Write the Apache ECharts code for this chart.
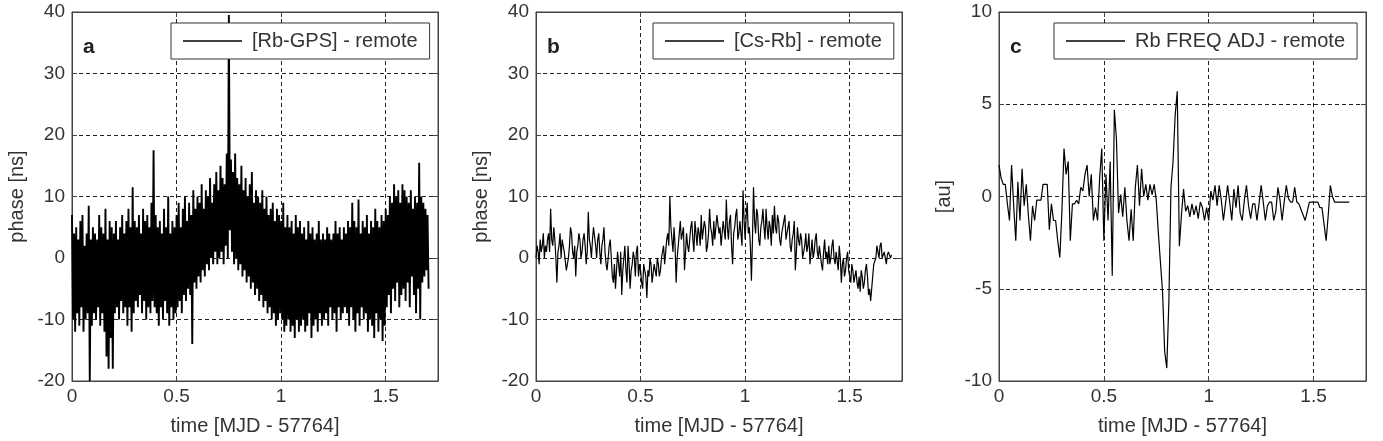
<!DOCTYPE html>
<html>
<head>
<meta charset="utf-8">
<script src="https://cdn.jsdelivr.net/npm/echarts@6/dist/echarts.min.js"></script>
<style>html,body{margin:0;padding:0;background:#fff;}#c{width:1383px;height:441px;}</style>
</head>
<body>
<div id="c"></div>
<script>
// Panel a: upper / lower excursions of the dense [Rb-GPS] phase trace, sampled every 0.01 day from 0 to 1.70
const stepA = 0.01;
const aHigh = [
 7, 4, 5, 3, 6, 7, 2, 4, 8.5, 3,
 5, 4, 3, 7, 5, 4, 8, 3, 6, 5,
 4, 6, 3, 5, 7, 4, 6, 8, 5, 11.5,
 6, 5, 7, 4, 8, 6, 7, 5, 9, 17.5,
 7, 5, 6, 4, 8, 5, 10, 4, 6, 5,
 7, 9, 5, 8, 10, 6, 9, 7, 11, 8,
 10, 9, 12, 8, 11, 10, 13, 9, 12, 14,
 11, 15, 13, 12, 17, 39.5, 16, 14, 17, 13,
 12, 15, 11, 13, 10, 12, 14, 9, 11, 10,
 9, 11, 8, 10, 7, 8, 9, 6, 8, 7,
 6, 9, 5, 7, 5, 6, 4, 7, 5, 6,
 4, 5, 3, 6, 4, 5, 3, 4, 6, 3,
 4, 3, 5, 4, 3, 4, 6, 4, 5, 3,
 5, 4, 6, 5, 9, 6, 5, 9.5, 4, 6,
 5, 7, 4, 6, 5, 8, 6, 5, 7, 6,
 8, 7, 10, 9, 12, 10, 11, 9, 12, 11,
 10, 9, 11, 8, 10, 9, 15.5, 10, 9, 8,
 7
];
const aLow = [
 -10, -12, -9, -11, -8, -12, -10, -9, -20, -11,
 -9, -10, -8, -11, -9, -12, -16, -18, -13, -18,
 -9, -8, -10, -7, -9, -8, -11, -8, -12, -9,
 -7, -8, -6, -9, -7, -10, -8, -9, -7, -8,
 -9, -11, -8, -10, -7, -9, -11, -8, -10, -9,
 -8, -7, -9, -6, -7, -5, -6, -14, -4, -5,
 -3, -4, -2, -3, -1, -2, 0, -1, 1, -1,
 0, 1, -1, 2, 0, 4.5, 1, -1, 0, -2,
 -1, -3, -2, -4, -3, -5, -4, -6, -5, -7,
 -6, -8, -7, -9, -8, -10, -9, -11, -10, -9,
 -10, -12, -11, -10, -12, -11, -13, -10, -12, -11,
 -10, -12, -11, -9, -13, -11, -10, -12, -9, -11,
 -10, -9, -11, -8, -10, -9, -12, -8, -10, -9,
 -8, -9, -11, -8, -10, -12, -9, -11, -8, -10,
 -9, -12, -10, -11, -13, -9, -12, -10, -13.5, -11,
 -8, -6, -9, -5, -7, -4, -8, -6, -5, -7,
 -4, -8, -3, -6, -9, -5, -10, -4, -3, -2,
 -5
];
// Panel b: [Cs-Rb] phase, every 0.005 day
const stepB = 0.005;
const bVals = [
 0, 2, 1, -1, 3, 1, 2, 4, 0, 2, 1, 3, 4, 1, 8, 3, 2, 5, 3, 0,
 -4, 1, 2, 4, 0, 3, 3, 1, 1, -2, -2, 0, 2, 5, 4, 1, 0, 2, -3, 1,
 2, 4, 3, 0, 1, 3, 4, 2, -1, 1, 7.5, 3, 2, 0, 3, 5, 5, 2, 0, 3,
 4, 1, -1, 2, 3, 5, 1, -1, -2, 0, 2, 3, 0, -3, -4, -1, -5, -2, 1, -1,
 -3, 1, -6, -2, 0, 2, -2, -4, 2, -1, -5, -2, -1, 1, 0, -3, 1, 2, -3, -1,
 -2, -4, -5, -1, -1, -3, -6.5, -2, -3, 0, -1, -4, -4, -1, -2, -3, 0, -1, -3, -2,
 0, 1, 2, -1, 1, 3, 4, 2, 10, 5, 3, 1, 5, 2, -4, 0, 2, 4, 6, 3,
 3, 5, -2, 1, 4, 2, 1, 3, 5, 6, 3, 1, 6, 4, 2, 5, 4, 2, 7, 3,
 3, 6, 5, 1, 2, 4, 8, 5, 4, 2, 6, 3, 3, 7, 7, 4, 5, 2, 4, 6,
 6, 3, 9.5, 5, 3, 6, 7, 2, -1, 4, 5, 7, 8, 3, 4, 6, 6, 2, 11, 6,
 3, 7, 9, 4, 5, 2, -3.7, 3, 11.5, 6, 4, 8, 7, 3, 2, 5, 6, 8, 5, 3,
 8, 5, 3, 6, 5, 2, 7, 4, 8.5, 5, 4, 7, 6, 3, 2, 4, 5, 6, 7, 3,
 3, 5, 6, 2, 1, 3, 4, 6, -2, 1, 5, 3, 2, 4, 3, 0, 0, 2, 4, 1,
 2, 4, -1, 1, 3, 0, 1, 3, 4, 1, 0, 2, 2, -1, -2, 1, 3, 0, 1, -1,
 2, -1, 0, 2, 3, 0, -1, 1, 1, -2, 2, 0, -4, -1, 0, -3, -2, 0, 1, -2,
 -3, -4, -1, -2, -4, -3, -2, -4, -5, -3, -5.5, -2, -3, -5, -4, -2, -1, -3, -6, -5,
 -7, -5, -3, -1, -1, 0, 2, 1, 0, 2, 2.5, 0, 0, 1, 1, -1, 0.5, 1, 1, 0,
 0.5
];
// Panel c: Rb FREQ ADJ, every 0.01 day
const stepC = 0.01;
const cVals = [
 1.7, 1.0, 0.66, 0.66, -0.4, -1.3, 1.7, -0.5, -2.4, 0.8,
 -1.3, 1.5, -0.5, 0.66, -1.0, -2.4, -0.5, -1.3, -0.2, -0.2,
 -0.2, 0.66, 0.66, 0.66, -1.8, -0.4, -1.3, -1.3, -2.4, -3.3,
 -0.8, 2.6, 1.2, 1.9, -2.4, -0.4, -0.4, -0.2, -0.4, 0.5,
 0.3, 1.2, 1.7, 0, 1.2, -1.3, -0.6, -1.3, 1.0, 2.6,
 -2.4, 1.2, -1.3, 1.9, -4.3, 4.7, 3.1, -0.9, 0.1, -1.1,
 0.5, -1.3, -2.4, -0.7, -2.4, 0.5, 1.7, -0.5, 1.5, 0,
 0.66, -0.2, 0.66, 0.1, 0.66, -0.2, -2.0, -3.6, -5.2, -8.4,
 -9.3, -5.7, 0.5, 1.9, 4.4, 5.7, -2.7, -1.0, 0.4, -0.8,
 -0.5, -1.1, -0.4, -1.0, -0.5, -1.2, -0.3, -0.6, -1.3, -0.6,
 -1.3, 0.3, -0.2, 0.6, -0.5, 0.6, -0.2, -1.3, -0.4, 0.6,
 -0.3, -1.3, 0.4, -0.6, 0.6, -0.9, -1.3, -0.2, 0.6, -0.5,
 -1.2, -0.4, -0.4, -1.3, -0.4, 0.6, -0.3, -1.3, -0.5, -0.3,
 -0.3, -1.3, -0.8, 0.5, -0.2, -1.3, -0.3, 0.6, -0.1, -0.3,
 -0.3, 0.5, -0.3, -0.4, -0.7, -1.0, -1.3, -0.8, -0.3, -0.3,
 -0.3, -0.3, -0.3, -0.6, -0.6, -1.5, -2.4, -1.0, 0.6, 0,
 -0.3, -0.3, -0.3, -0.3, -0.3, -0.3, -0.3, -0.3
];
const xTicks = [0, 0.5, 1, 1.5];
const seriesNames = ['[Rb-GPS] - remote', '[Cs-Rb] - remote', 'Rb FREQ ADJ - remote'];
const panelLetters = ['a', 'b', 'c'];
const yNames = ['phase [ns]', 'phase [ns]', '[au]'];
const yRanges = [[-20, 40, 10], [-20, 40, 10], [-10, 10, 5]];

const dataA = [];
aHigh.forEach((v, i) => { dataA.push([i * stepA, v]); dataA.push([i * stepA + stepA / 2, aLow[i]]); });
const dataB = bVals.map((v, i) => [i * stepB, v]);
const dataC = cVals.map((v, i) => [i * stepC, v]);
const datas = [dataA, dataB, dataC];
const widths = [1.9, 1.2, 1.2];

const FONT = 'Liberation Sans, Arial, sans-serif';
const TXT = '#333';
const grids = [
  {left: 72, top: 12, width: 366, height: 375},
  {left: 536, top: 12, width: 366, height: 375},
  {left: 999, top: 12, width: 367, height: 375}
];
const legendPos = [{left: 171, top: 23}, {left: 653, top: 23}, {left: 1054, top: 23}];
const dash = {color: '#222', type: [4, 3], width: 1};

const option = {
  animation: false,
  backgroundColor: '#fff',
  textStyle: {fontFamily: FONT},
  grid: grids.map(g => Object.assign({show: true, borderColor: '#444', borderWidth: 1, backgroundColor: 'transparent'}, g)),
  title: panelLetters.map((t, i) => ({
    text: t, left: grids[i].left + 11, top: 37, padding: 0,
    textStyle: {fontSize: 21, fontWeight: 'bold', color: '#222', fontFamily: FONT}
  })),
  legend: seriesNames.map((n, i) => ({
    data: [n], left: legendPos[i].left, top: legendPos[i].top,
    backgroundColor: '#fff', borderColor: '#333', borderWidth: 1, borderRadius: 0,
    padding: [8, 12, 8, 12], itemWidth: 59, itemHeight: 1.5, icon: 'rect',
    selectedMode: false,
    textStyle: {fontSize: 20, color: TXT, fontFamily: FONT, padding: [0, 0, 0, 5]}
  })),
  xAxis: [],
  yAxis: [],
  series: []
};
for (let i = 0; i < 3; i++) {
  const common = {min: 0, max: 1.75, interval: 0.5, gridIndex: i, type: 'value'};
  option.xAxis.push(Object.assign({}, common, {
    position: 'bottom',
    name: 'time [MJD - 57764]', nameLocation: 'middle', nameGap: 35,
    nameTextStyle: {fontSize: 20, color: TXT, fontFamily: FONT},
    axisLine: {show: true, onZero: false, lineStyle: {color: '#444'}},
    axisTick: {show: true, inside: true, length: 5, lineStyle: {color: '#444'}},
    axisLabel: {fontSize: 19, color: TXT, margin: 6, showMaxLabel: false, fontFamily: FONT},
    splitLine: {show: true, lineStyle: dash}
  }));
  option.xAxis.push(Object.assign({}, common, {
    position: 'top',
    axisLine: {show: true, onZero: false, lineStyle: {color: '#444'}},
    axisTick: {show: true, inside: true, length: 5, lineStyle: {color: '#444'}},
    axisLabel: {show: false}, splitLine: {show: false}
  }));
  const [ymin, ymax, yint] = yRanges[i];
  const yc = {min: ymin, max: ymax, interval: yint, gridIndex: i, type: 'value'};
  option.yAxis.push(Object.assign({}, yc, {
    position: 'left',
    name: yNames[i], nameLocation: 'middle', nameGap: 45,
    nameTextStyle: {fontSize: 20, color: TXT, fontFamily: FONT},
    axisLine: {show: true, onZero: false, lineStyle: {color: '#444'}},
    axisTick: {show: true, inside: true, length: 5, lineStyle: {color: '#444'}},
    axisLabel: {fontSize: 19, color: TXT, margin: 7, fontFamily: FONT},
    splitLine: {show: true, lineStyle: dash}
  }));
  option.yAxis.push(Object.assign({}, yc, {
    position: 'right',
    axisLine: {show: true, onZero: false, lineStyle: {color: '#444'}},
    axisTick: {show: true, inside: true, length: 5, lineStyle: {color: '#444'}},
    axisLabel: {show: false}, splitLine: {show: false}
  }));
  option.series.push({
    name: seriesNames[i], type: 'line', xAxisIndex: i * 2, yAxisIndex: i * 2,
    data: datas[i], showSymbol: false, symbol: 'none', color: '#000',
    lineStyle: {color: '#000', width: widths[i]}, z: 3, silent: true
  });
}
const chart = echarts.init(document.getElementById('c'), null, {renderer: 'canvas'});
chart.setOption(option);
</script>
</body>
</html>
